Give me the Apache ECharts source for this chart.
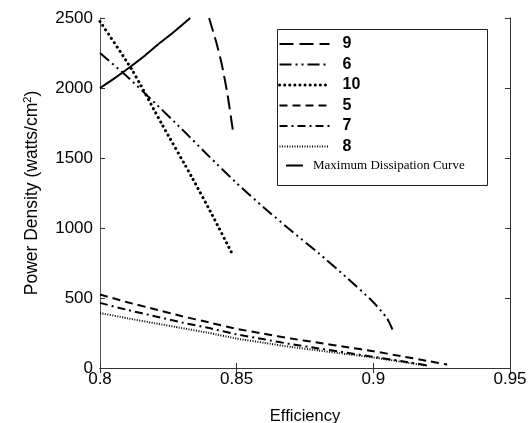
<!DOCTYPE html>
<html>
<head>
<meta charset="utf-8">
<script src="https://cdn.jsdelivr.net/npm/echarts@6/dist/echarts.min.js"></script>
<style>
  html, body { margin: 0; padding: 0; background: #fff; }
  #chart { width: 531px; height: 423px; }
</style>
</head>
<body>
<div id="chart"></div>
<script>
// values (efficiency, power density in watts/cm^2)
var eff9 = [0.8399, 0.8425, 0.8446, 0.8466, 0.8487];
var pd9 = [2500, 2330, 2164, 1960, 1686];

var eff6 = [0.8, 0.81, 0.82, 0.83, 0.84, 0.85, 0.86, 0.87, 0.88, 0.89, 0.9, 0.905, 0.907];
var pd6 = [2250, 2080, 1895, 1705, 1510, 1320, 1145, 980, 820, 650, 470, 355, 275];

var eff10 = [0.8, 0.8117, 0.8227, 0.8337, 0.841, 0.848];
var pd10 = [2475, 2130, 1740, 1360, 1095, 830];

var eff5 = [0.8, 0.81, 0.82, 0.83, 0.84, 0.85, 0.86, 0.87, 0.88, 0.89, 0.9, 0.91, 0.92, 0.927];
var pd5 = [525, 470, 420, 370, 325, 280, 245, 210, 180, 150, 120, 85, 50, 25];

var eff7 = [0.8, 0.81, 0.82, 0.83, 0.84, 0.85, 0.86, 0.87, 0.88, 0.89, 0.9, 0.91, 0.92];
var pd7 = [465, 415, 370, 325, 285, 240, 205, 170, 140, 110, 80, 50, 18];

var eff8 = [0.8, 0.81, 0.82, 0.83, 0.84, 0.85, 0.86, 0.87, 0.88, 0.89, 0.9, 0.91, 0.92];
var pd8 = [393, 355, 320, 285, 250, 210, 180, 150, 125, 100, 75, 45, 15];

var effMax = [0.8, 0.805, 0.811, 0.816, 0.821, 0.827, 0.833];
var pdMax = [2000, 2065, 2150, 2225, 2307, 2400, 2500];

var xTicks = [0.8, 0.85, 0.9, 0.95];
var yTicks = [0, 500, 1000, 1500, 2000, 2500];

function pairs(xs, ys) {
  var out = [];
  for (var i = 0; i < xs.length; i++) {
    out.push([xs[i], ys[i]]);
  }
  return out;
}

var chart = echarts.init(document.getElementById('chart'), null, { renderer: 'canvas' });

var sans = 'Liberation Sans, Arial, sans-serif';
var serif = 'Liberation Serif, Times New Roman, serif';

function lineSeries(name, xs, ys, width, dash, cap) {
  return {
    name: name,
    type: 'line',
    data: pairs(xs, ys),
    symbol: 'none',
    smooth: 0.2,
    animation: false,
    itemStyle: { color: '#000' },
    lineStyle: { color: '#000', width: width, type: dash, cap: cap || 'butt' }
  };
}

var axisColor = '#333';

var option = {
  backgroundColor: '#fff',
  animation: false,
  grid: { left: 100, right: 21, top: 18, bottom: 55, containLabel: false, outerBoundsMode: 'none' },
  xAxis: [{
    type: 'value',
    position: 'bottom',
    min: xTicks[0],
    max: xTicks[xTicks.length - 1],
    interval: 0.05,
    name: 'Efficiency',
    nameLocation: 'middle',
    nameGap: 40,
    nameTextStyle: { fontFamily: sans, fontSize: 16.5, color: '#000' },
    axisLine: { show: true, lineStyle: { color: '#000', width: 1 } },
    axisTick: { show: true, inside: true, length: 5, lineStyle: { color: axisColor } },
    axisLabel: { fontFamily: sans, fontSize: 17, color: '#000', margin: 3 },
    splitLine: { show: false }
  }, {
    type: 'value',
    position: 'top',
    min: xTicks[0],
    max: xTicks[xTicks.length - 1],
    interval: 0.05,
    axisLine: { show: true, lineStyle: { color: axisColor, width: 1 } },
    axisTick: { show: true, inside: true, length: 5, lineStyle: { color: axisColor } },
    axisLabel: { show: false },
    splitLine: { show: false }
  }],
  yAxis: [{
    type: 'value',
    position: 'left',
    min: yTicks[0],
    max: yTicks[yTicks.length - 1],
    interval: 500,
    name: 'Power Density (watts/cm{sup|2})',
    nameLocation: 'middle',
    nameGap: 58,
    nameTextStyle: {
      fontFamily: sans, fontSize: 17.5, color: '#000',
      rich: { sup: { fontFamily: sans, fontSize: 11, color: '#000', verticalAlign: 'bottom', padding: [0, 0, 9, 0] } }
    },
    axisLine: { show: true, lineStyle: { color: '#555', width: 1 } },
    axisTick: { show: true, inside: true, length: 5, lineStyle: { color: axisColor } },
    axisLabel: {
      fontFamily: sans, fontSize: 17, color: '#000', margin: 7,
      formatter: function (v) { return String(v); }
    },
    splitLine: { show: false }
  }, {
    type: 'value',
    position: 'right',
    min: yTicks[0],
    max: yTicks[yTicks.length - 1],
    interval: 500,
    axisLine: { show: true, lineStyle: { color: axisColor, width: 1 } },
    axisTick: { show: true, inside: true, length: 5, lineStyle: { color: axisColor } },
    axisLabel: { show: false },
    splitLine: { show: false }
  }],
  legend: [{
    orient: 'vertical',
    left: 278,
    top: 36,
    padding: 0,
    itemWidth: 50,
    itemHeight: 14,
    itemGap: 4.5,
    selectedMode: false,
    itemStyle: { opacity: 0 },
    textStyle: { fontFamily: sans, fontSize: 16, fontWeight: 'bold', color: '#000', padding: [0, 0, 0, 8] },
    data: [
      '9', '6',
      { name: '10', lineStyle: { width: 3, type: [0.1, 5], cap: 'round' } },
      '5', '7', '8'
    ]
  }, {
    orient: 'vertical',
    left: 285,
    top: 159,
    padding: 0,
    itemWidth: 17,
    itemHeight: 14,
    selectedMode: false,
    itemStyle: { opacity: 0 },
    textStyle: { fontFamily: serif, fontSize: 13, color: '#000', padding: [0, 0, 0, 5] },
    data: ['Maximum Dissipation Curve']
  }],
  graphic: [{
    type: 'rect',
    left: 275,
    top: 27,
    shape: { width: 210, height: 156 },
    style: { fill: 'none', stroke: '#222', lineWidth: 1 },
    z: 100
  }],
  series: [
    lineSeries('9', eff9, pd9, 2, [14, 6]),
    lineSeries('6', eff6, pd6, 2, [12, 4, 2, 4, 2, 4]),
    lineSeries('10', eff10, pd10, 3, [0.1, 5], 'round'),
    lineSeries('5', eff5, pd5, 2, [8, 5]),
    lineSeries('7', eff7, pd7, 2, [8, 4, 2, 4]),
    lineSeries('8', eff8, pd8, 2, [1, 1.5]),
    lineSeries('Maximum Dissipation Curve', effMax, pdMax, 2, 'solid')
  ]
};

chart.setOption(option);
</script>
</body>
</html>
